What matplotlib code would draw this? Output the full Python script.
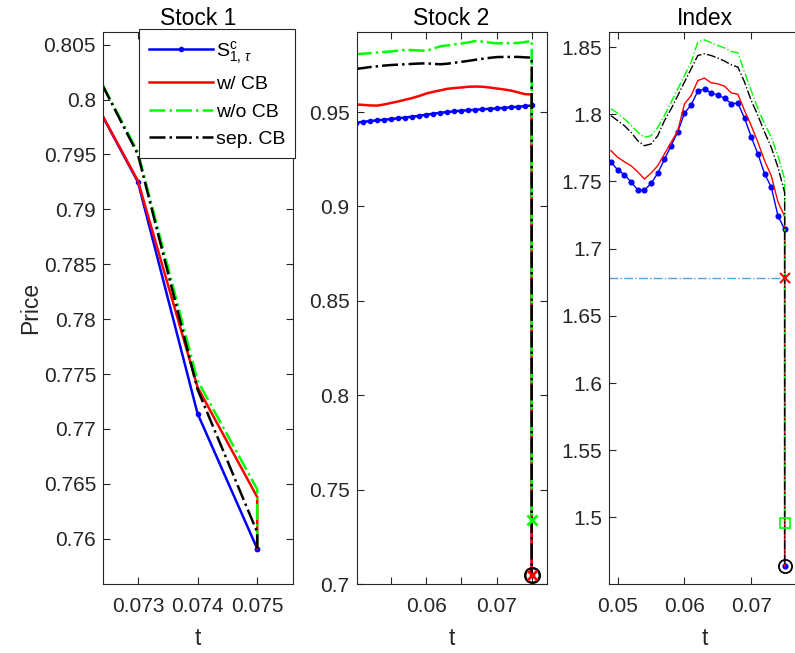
import matplotlib
matplotlib.use("Agg")
import matplotlib.pyplot as plt
from matplotlib.ticker import FuncFormatter, FixedLocator

plt.rcParams['font.family'] = ['Liberation Sans', 'DejaVu Sans']
plt.rcParams['mathtext.fontset'] = 'custom'
plt.rcParams['mathtext.rm'] = 'Liberation Sans'
plt.rcParams['mathtext.it'] = 'Liberation Sans:italic'
plt.rcParams['mathtext.fallback'] = 'cm'

# ---------------- data ----------------
# Stock 1 (last entry is the value right at the crash time)
t_s1 = [0.072, 0.073, 0.074, 0.075, 0.075]
s1_path = [0.8026, 0.7925, 0.7714, 0.7591, 0.7591]
s1_cb = [0.8026, 0.7926, 0.7738, 0.7638, 0.7591]
s1_nocb = [0.8056, 0.7952, 0.7744, 0.7645, 0.7591]
s1_sep = [0.8056, 0.7950, 0.7736, 0.7606, 0.7591]

# Stock 2
t_s2 = [0.050, 0.051, 0.052, 0.053, 0.054, 0.055, 0.056, 0.057, 0.058, 0.059,
        0.060, 0.061, 0.062, 0.063, 0.064, 0.065, 0.066, 0.067, 0.068, 0.069,
        0.070, 0.071, 0.072, 0.073, 0.074, 0.075, 0.075]
s2_path = [0.9443, 0.9448, 0.9452, 0.9456, 0.9459, 0.9463, 0.9467, 0.9471, 0.9475, 0.9480,
           0.9486, 0.9491, 0.9496, 0.9500, 0.9504, 0.9507, 0.9510, 0.9512, 0.9515, 0.9517,
           0.9519, 0.9522, 0.9525, 0.9528, 0.9531, 0.9535, 0.705]
s2_cb = [0.9540, 0.9538, 0.9535, 0.9534, 0.9540, 0.9548, 0.9556, 0.9565, 0.9574, 0.9585,
         0.9598, 0.9607, 0.9615, 0.9623, 0.9627, 0.9630, 0.9634, 0.9635, 0.9634, 0.9630,
         0.9625, 0.9620, 0.9614, 0.9605, 0.9595, 0.9593, 0.705]
s2_nocb = [0.9806, 0.9809, 0.9812, 0.9815, 0.9818, 0.9821, 0.9825, 0.9829, 0.9828, 0.9826,
           0.9824, 0.9836, 0.9848, 0.9853, 0.9858, 0.9863, 0.9869, 0.9876, 0.9873, 0.9868,
           0.9864, 0.9864, 0.9865, 0.9866, 0.9870, 0.9877, 0.734]
s2_sep = [0.9728, 0.9733, 0.9738, 0.9742, 0.9746, 0.9749, 0.9751, 0.9753, 0.9755, 0.9757,
          0.9758, 0.9755, 0.9753, 0.9756, 0.9761, 0.9766, 0.9771, 0.9777, 0.9782, 0.9787,
          0.9791, 0.9792, 0.9792, 0.9792, 0.9790, 0.9788, 0.705]
s2_mark_cb = 0.705
s2_mark_nocb = 0.734
s2_mark_sep = 0.705

# Index
t_ix = [0.049, 0.050, 0.051, 0.052, 0.053, 0.054, 0.055, 0.056, 0.057, 0.058,
        0.059, 0.060, 0.061, 0.062, 0.063, 0.064, 0.065, 0.066, 0.067, 0.068,
        0.069, 0.070, 0.071, 0.072, 0.073, 0.074, 0.075, 0.075]
ix_path = [1.7642, 1.7587, 1.7550, 1.7497, 1.7438, 1.7435, 1.7485, 1.7562, 1.7664, 1.7766,
           1.7870, 1.8008, 1.8070, 1.8172, 1.8187, 1.8159, 1.8142, 1.8120, 1.8079, 1.8082,
           1.7970, 1.7831, 1.7704, 1.7557, 1.7458, 1.7244, 1.7144, 1.4640]
ix_cb = [1.7729, 1.7679, 1.7647, 1.7617, 1.7572, 1.7518, 1.7562, 1.7617, 1.7704, 1.7791,
         1.7878, 1.8077, 1.8139, 1.8251, 1.8269, 1.8234, 1.8226, 1.8209, 1.8159, 1.8149,
         1.8027, 1.7915, 1.7791, 1.7654, 1.7542, 1.7348, 1.7239, 1.4640]
ix_nocb = [1.8040, 1.8008, 1.7965, 1.7920, 1.7866, 1.7829, 1.7840, 1.7903, 1.7990, 1.8090,
           1.8189, 1.8288, 1.8388, 1.8537, 1.8554, 1.8532, 1.8512, 1.8493, 1.8467, 1.8457,
           1.8313, 1.8176, 1.8040, 1.7928, 1.7829, 1.7691, 1.7518, 1.4961]
ix_sep = [1.7990, 1.7952, 1.7915, 1.7866, 1.7803, 1.7766, 1.7779, 1.7840, 1.7952, 1.8040,
          1.8139, 1.8239, 1.8338, 1.8437, 1.8450, 1.8437, 1.8418, 1.8396, 1.8368, 1.8351,
          1.8239, 1.8102, 1.7990, 1.7866, 1.7754, 1.7605, 1.7418, 1.4640]
ix_cb_level = 1.6784
ix_mark_nocb = 1.4961
ix_mark_sep = 1.4640

titles = ["Stock 1", "Stock 2", "Index"]
legend_labels = [r'S$^{\mathrm{c}}_{1,\,\tau}$', 'w/ CB', 'w/o CB', 'sep. CB']

# ---------------- figure ----------------
W, H = 795, 653
fig = plt.figure(figsize=(W / 100, H / 100), dpi=100)

def px_axes(left, right, top, bottom):
    return fig.add_axes([left / W, (H - bottom) / H, (right - left) / W, (bottom - top) / H])

ax1 = px_axes(103, 293, 32, 584)
ax2 = px_axes(356.5, 546.5, 32, 584)
ax3 = px_axes(609, 800, 32, 584)

BLUE, RED, GREEN, BLACK = '#0000ff', '#ff0000', '#00ff00', '#000000'
AXC = '#262626'

def draw(ax, t, path, cb, nocb, sep, lw, ms):
    ax.plot(t, path, '-', color=BLUE, lw=lw, marker='o', ms=ms, label=legend_labels[0])
    ax.plot(t, cb, '-', color=RED, lw=lw, label=legend_labels[1])
    ax.plot(t, nocb, '-.', color=GREEN, lw=lw, label=legend_labels[2])
    ax.plot(t, sep, '-.', color=BLACK, lw=lw, label=legend_labels[3])

draw(ax1, t_s1, s1_path, s1_cb, s1_nocb, s1_sep, 1.8, 3.0)
draw(ax2, t_s2, s2_path, s2_cb, s2_nocb, s2_sep, 1.8, 3.0)
draw(ax3, t_ix, ix_path, ix_cb, ix_nocb, ix_sep, 1.0, 3.4)

# crash-time markers, Stock 2
ax2.plot(t_s2[-1], s2_mark_nocb, 'x', color=GREEN, ms=7.5, mew=2)
ax2.plot(t_s2[-1], s2_mark_sep, 'o', mfc='none', mec=BLACK, ms=10.5, mew=1.8)
ax2.plot(t_s2[-1], s2_mark_cb, 'x', color=RED, ms=7, mew=2)

# crash-time markers and breaker level, Index
x_left3 = 0.0487
ax3.plot([x_left3, t_ix[-1]], [ix_cb_level, ix_cb_level], '-.', color='#4da6e0', lw=1.0)
ax3.plot(t_ix[-1], ix_cb_level, 'x', color=RED, ms=7, mew=1.5)
ax3.plot(t_ix[-1], ix_mark_nocb, 's', mfc='none', mec=GREEN, ms=7, mew=1.2)
ax3.plot(t_ix[-1], ix_mark_sep, 'o', mfc='none', mec=BLACK, ms=9.5, mew=1.3)

fmt = FuncFormatter(lambda v, p: '%g' % round(v, 6))

def style(ax, xlim, ylim, xticks, yticks, xlabels=None, right=True):
    ax.set_xlim(*xlim)
    ax.set_ylim(*ylim)
    ax.xaxis.set_major_locator(FixedLocator(xticks))
    ax.yaxis.set_major_locator(FixedLocator(yticks))
    ax.yaxis.set_major_formatter(fmt)
    if xlabels is None:
        ax.xaxis.set_major_formatter(fmt)
    else:
        ax.set_xticklabels(xlabels)
    ax.tick_params(direction='in', top=True, right=right, length=5, width=0.8,
                   color=AXC, labelcolor=AXC, labelsize=15)
    ax.tick_params(axis='x', pad=9)
    ax.tick_params(axis='y', pad=5)
    for s in ax.spines.values():
        s.set_color(AXC)
        s.set_linewidth(0.8)
    ax.set_xlabel('t', fontsize=16.5, color=AXC, labelpad=8)

style(ax1, (0.072415, 0.0756), (0.75588, 0.80615),
      [0.073, 0.074, 0.075],
      [0.76, 0.765, 0.77, 0.775, 0.78, 0.785, 0.79, 0.795, 0.8, 0.805])
style(ax2, (0.0501, 0.0771), (0.7, 0.9924),
      [0.055, 0.06, 0.065, 0.07, 0.075],
      [0.7, 0.75, 0.8, 0.85, 0.9, 0.95],
      xlabels=['', '0.06', '', '0.07', ''])
style(ax3, (x_left3, 0.0773), (1.4505, 1.8612),
      [0.05, 0.06, 0.07],
      [1.5, 1.55, 1.6, 1.65, 1.7, 1.75, 1.8, 1.85], right=False)

for ax, ttl in zip([ax1, ax2, ax3], titles):
    ax.set_title(ttl, fontsize=16.5, color='black', pad=5)

ax1.set_ylabel('Price', fontsize=16.5, color=AXC, labelpad=1)

leg = ax1.legend(loc='upper left', bbox_to_anchor=(0.189, 1.005), fontsize=14,
                 handlelength=3.3, handletextpad=0.15, labelspacing=0.5,
                 borderpad=0.5, borderaxespad=0.0, fancybox=False, framealpha=1,
                 edgecolor=AXC)
leg.get_frame().set_linewidth(0.8)

fig.savefig('out.png', dpi=100)
